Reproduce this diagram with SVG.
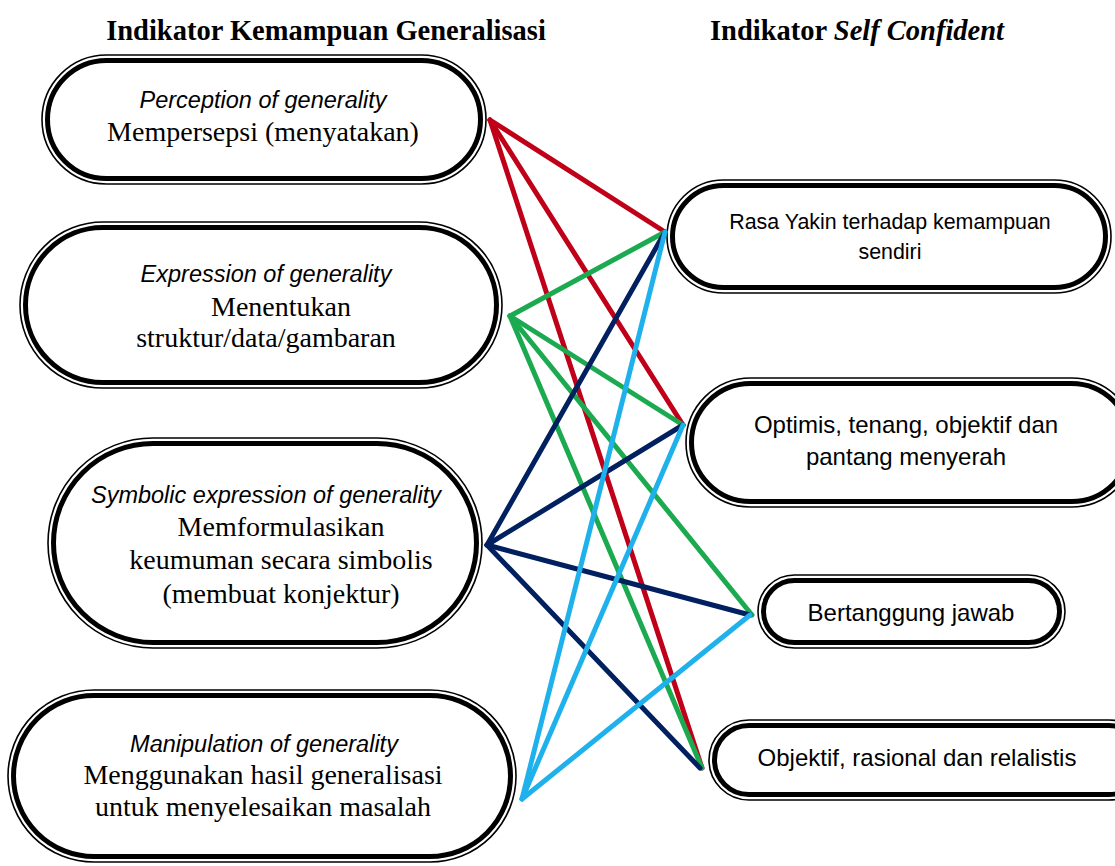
<svg xmlns="http://www.w3.org/2000/svg" width="1115" height="866" viewBox="0 0 1115 866">
<style>
.o{fill:#fff;stroke:#000;stroke-width:1.6}
.i{fill:none;stroke:#000;stroke-width:5}
.h{font-family:"Liberation Serif",serif;font-weight:bold;font-size:28.5px;fill:#000}
.it{font-family:"Liberation Sans",sans-serif;font-style:italic;font-size:23.5px;fill:#000}
.sr{font-family:"Liberation Serif",serif;font-size:28px;fill:#000}
.ss{font-family:"Liberation Sans",sans-serif;font-size:24px;fill:#000}
.s1{font-size:21.4px}
.c{fill:none;stroke-width:5;stroke-linecap:round}
.red{stroke:#C00018}.grn{stroke:#1BAA50}.nav{stroke:#002060}.cyn{stroke:#1FB1EC}
</style>
<rect width="1115" height="866" fill="#fff"/>
<text class="h" x="326" y="40" text-anchor="middle">Indikator Kemampuan Generalisasi</text>
<text class="h" x="857" y="40" text-anchor="middle">Indikator <tspan font-style="italic">Self Confident</tspan></text>

<g id="n1">
<rect class="o" x="42" y="55" width="444" height="129" rx="64.5"/>
<rect class="i" x="47.5" y="60.5" width="433" height="118" rx="59"/>
<text class="it" x="263" y="108" text-anchor="middle">Perception of generality</text>
<text class="sr" x="263" y="141" text-anchor="middle">Mempersepsi (menyatakan)</text>
</g>
<g id="n2">
<rect class="o" x="20" y="222" width="482" height="166" rx="83"/>
<rect class="i" x="25.5" y="227.5" width="471" height="155" rx="77.5"/>
<text class="it" x="266" y="282" text-anchor="middle">Expression of generality</text>
<text class="sr" x="281" y="316" text-anchor="middle">Menentukan</text>
<text class="sr" x="266" y="347" text-anchor="middle">struktur/data/gambaran</text>
</g>
<g id="n3">
<rect class="o" x="48" y="438" width="434" height="210" rx="105"/>
<rect class="i" x="53.5" y="443.5" width="423" height="199" rx="99.5"/>
<text class="it" x="266" y="503" text-anchor="middle">Symbolic expression of generality</text>
<text class="sr" x="281" y="536" text-anchor="middle">Memformulasikan</text>
<text class="sr" x="281" y="569" text-anchor="middle">keumuman secara simbolis</text>
<text class="sr" x="281" y="603" text-anchor="middle">(membuat konjektur)</text>
</g>
<g id="n4">
<rect class="o" x="8" y="690" width="508" height="172" rx="86"/>
<rect class="i" x="13.5" y="695.5" width="497" height="161" rx="80.5"/>
<text class="it" x="264" y="752" text-anchor="middle">Manipulation of generality</text>
<text class="sr" x="263" y="784" text-anchor="middle">Menggunakan hasil generalisasi</text>
<text class="sr" x="263" y="816" text-anchor="middle">untuk menyelesaikan masalah</text>
</g>

<g id="r1">
<rect class="o" x="667" y="180" width="444" height="113" rx="56.5"/>
<rect class="i" x="672.5" y="185.5" width="433" height="102" rx="51"/>
<text class="ss s1" x="890" y="229" text-anchor="middle">Rasa Yakin terhadap kemampuan</text>
<text class="ss s1" x="890" y="259" text-anchor="middle">sendiri</text>
</g>
<g id="r2">
<rect class="o" x="686" y="378" width="450" height="129" rx="64.5"/>
<rect class="i" x="691.5" y="383.5" width="439" height="118" rx="59"/>
<text class="ss" x="906" y="433" text-anchor="middle">Optimis, tenang, objektif dan</text>
<text class="ss" x="906" y="465" text-anchor="middle">pantang menyerah</text>
</g>
<g id="r3">
<rect class="o" x="758" y="575" width="307" height="73" rx="36.5"/>
<rect class="i" x="763.5" y="580.5" width="296" height="62" rx="31"/>
<text class="ss" x="911" y="621" text-anchor="middle">Bertanggung jawab</text>
</g>
<g id="r4">
<rect class="o" x="709" y="720" width="440" height="80" rx="40"/>
<rect class="i" x="714.5" y="725.5" width="429" height="69" rx="34.5"/>
<text class="ss" x="917" y="766" text-anchor="middle">Objektif, rasional dan relalistis</text>
</g>

<g id="connectors">
<line class="c red" x1="490" y1="120" x2="665" y2="232"/>
<line class="c red" x1="490" y1="120" x2="683" y2="425"/>
<line class="c red" x1="490" y1="120" x2="702" y2="768"/>
<line class="c grn" x1="510" y1="316" x2="665" y2="232"/>
<line class="c grn" x1="510" y1="316" x2="683" y2="425"/>
<line class="c grn" x1="510" y1="316" x2="752" y2="615"/>
<line class="c grn" x1="510" y1="316" x2="702" y2="768"/>
<line class="c nav" x1="487" y1="545" x2="665" y2="232"/>
<line class="c nav" x1="487" y1="545" x2="683" y2="425"/>
<line class="c nav" x1="487" y1="545" x2="750" y2="615"/>
<line class="c nav" x1="487" y1="545" x2="700" y2="768"/>
<line class="c cyn" x1="522" y1="799" x2="665" y2="232"/>
<line class="c cyn" x1="522" y1="799" x2="683" y2="425"/>
<line class="c cyn" x1="522" y1="799" x2="750" y2="615"/>
</g>
</svg>
